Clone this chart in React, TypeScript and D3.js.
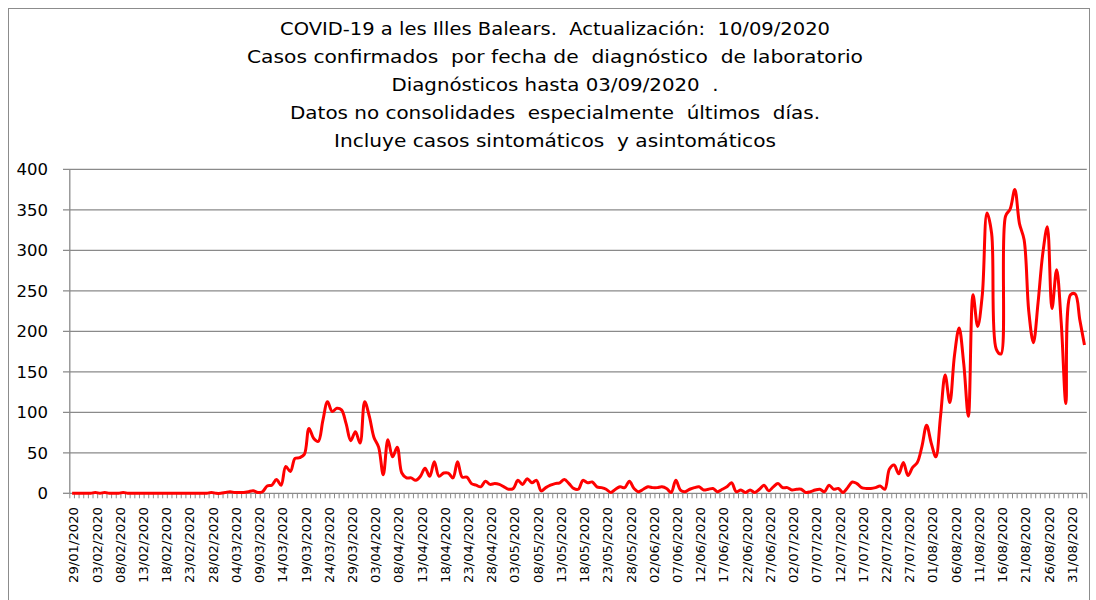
import React from 'react';
import * as d3 from 'd3';

const titleLines = [
  'COVID-19 a les Illes Balears.  Actualización:  10/09/2020',
  'Casos confirmados  por fecha de  diagnóstico  de laboratorio',
  'Diagnósticos hasta 03/09/2020  .',
  'Datos no consolidades  especialmente  últimos  días.',
  'Incluye casos sintomáticos  y asintomáticos',
];
const titleWidths = [550, 616, 327, 530, 442];

const firstDay = new Date(2020, 0, 29);
const dayAfterLast = new Date(2020, 8, 4);

const cases = [
  0, 0, 0, 0, 0, 1, 0, 1, 0, 0,
  0, 1, 0, 0, 0, 0, 0, 0, 0, 0,
  0, 0, 0, 0, 0, 0, 0, 0, 0, 0,
  1, 0, 0, 1, 2, 1, 1, 1, 2, 3,
  1, 2, 9, 10, 17, 10, 33, 27, 43, 44,
  48, 80, 68, 64, 90, 113, 101, 105, 103, 86,
  65, 76, 62, 113, 95, 69, 57, 23, 66, 45,
  57, 25, 19, 19, 16, 21, 31, 21, 39, 21,
  25, 25, 19, 39, 20, 20, 12, 10, 8, 15,
  11, 12, 11, 8, 5, 6, 16, 11, 18, 13,
  16, 3, 7, 10, 12, 13, 17, 12, 6, 5,
  16, 13, 14, 8, 7, 5, 1, 5, 8, 7,
  15, 6, 2, 5, 8, 7, 7, 8, 6, 1,
  16, 4, 2, 5, 7, 8, 4, 5, 6, 2,
  5, 8, 13, 2, 4, 1, 4, 1, 5, 10,
  3, 8, 12, 7, 7, 4, 5, 5, 1, 2,
  4, 5, 2, 10, 5, 6, 1, 7, 14, 12,
  7, 6, 6, 7, 9, 5, 30, 35, 24, 38,
  22, 32, 38, 58, 84, 62, 45, 95, 146, 112,
  170, 204, 160, 95, 245, 206, 245, 346, 321, 178,
  172, 342, 351, 375, 333, 313, 225, 186, 235, 295,
  329, 228, 276, 210, 111, 245, 246, 214, 183,
];

const yTicks = [0, 50, 100, 150, 200, 250, 300, 350, 400];

const xTickLabels = [
  '29/01/2020', '03/02/2020', '08/02/2020', '13/02/2020', '18/02/2020', '23/02/2020',
  '28/02/2020', '04/03/2020', '09/03/2020', '14/03/2020', '19/03/2020', '24/03/2020',
  '29/03/2020', '03/04/2020', '08/04/2020', '13/04/2020', '18/04/2020', '23/04/2020',
  '28/04/2020', '03/05/2020', '08/05/2020', '13/05/2020', '18/05/2020', '23/05/2020',
  '28/05/2020', '02/06/2020', '07/06/2020', '12/06/2020', '17/06/2020', '22/06/2020',
  '27/06/2020', '02/07/2020', '07/07/2020', '12/07/2020', '17/07/2020', '22/07/2020',
  '27/07/2020', '01/08/2020', '06/08/2020', '11/08/2020', '16/08/2020', '21/08/2020',
  '26/08/2020', '31/08/2020',
];

export default function App() {
  const W = 1096;
  const H = 600;
  const fmt = d3.timeFormat('%d/%m/%Y');
  const days = d3.timeDay.range(firstDay, dayAfterLast).map((d) => fmt(d));
  const plotLeft = 69.8;
  const plotRight = 1086.8;
  const x = d3.scalePoint<string>().domain(days).range([plotLeft, plotRight]).padding(0.5);
  const step = x.step();
  const y = d3.scaleLinear().domain([0, 400]).range([493.3, 169.3]);
  const line = d3
    .line<number>()
    .x((_, i) => x(days[i]) as number)
    .y((d) => y(d))
    .curve(d3.curveCatmullRom.alpha(0.5));
  const gridColor = '#8a8a8a';
  const boundaries = d3.range(days.length + 1).map((k) => plotLeft + k * step);

  return (
    <svg
      width={W}
      height={H}
      style={{ position: 'absolute', left: 0, top: 0, background: '#fff' }}
    >
      <rect x={8.5} y={8.5} width={1081} height={640} fill="#fff" stroke="#8c8c8c" strokeWidth={1} />
      {titleLines.map((t, i) => (
        <text
          key={i}
          x={555}
          y={35 + i * 28}
          textAnchor="middle"
          fontFamily="'DejaVu Sans', Verdana, sans-serif"
          fontSize={18.5}
          fill="#000"
          textLength={titleWidths[i]}
          lengthAdjust="spacingAndGlyphs"
          style={{ whiteSpace: 'pre' }}
        >
          {t}
        </text>
      ))}
      {yTicks.map((t) => (
        <g key={t}>
          {t > 0 && (
            <line x1={63} x2={plotRight} y1={y(t)} y2={y(t)} stroke={gridColor} strokeWidth={1.3} />
          )}
          {t === 0 && (
            <line x1={63} x2={plotLeft} y1={y(t)} y2={y(t)} stroke={gridColor} strokeWidth={1.3} />
          )}
          <text
            x={48}
            y={y(t)}
            dy="0.36em"
            textAnchor="end"
            fontFamily="'DejaVu Sans', Verdana, sans-serif"
            fontSize={16.5}
            fill="#000"
          >
            {t}
          </text>
        </g>
      ))}
      <line x1={plotLeft} x2={plotLeft} y1={y(400)} y2={y(0)} stroke={gridColor} strokeWidth={1.3} />
      <line x1={plotLeft} x2={plotRight} y1={y(0)} y2={y(0)} stroke={gridColor} strokeWidth={1.3} />
      {boundaries.map((bx, k) => (
        <line key={k} x1={bx} x2={bx} y1={y(0)} y2={y(0) + 5} stroke={gridColor} strokeWidth={1} />
      ))}
      {xTickLabels.map((lab) => {
        const cx = (x(lab) as number) + 1.5;
        const ty = 507;
        return (
          <text
            key={lab}
            transform={`translate(${cx},${ty}) rotate(-90)`}
            dy="0.36em"
            textAnchor="end"
            fontFamily="'DejaVu Sans', Verdana, sans-serif"
            fontSize={13}
            fill="#000"
            textLength={76}
            lengthAdjust="spacingAndGlyphs"
          >
            {lab}
          </text>
        );
      })}
      <path d={line(cases) || ''} fill="none" stroke="#ff0000" strokeWidth={3} strokeLinejoin="round" />
    </svg>
  );
}
